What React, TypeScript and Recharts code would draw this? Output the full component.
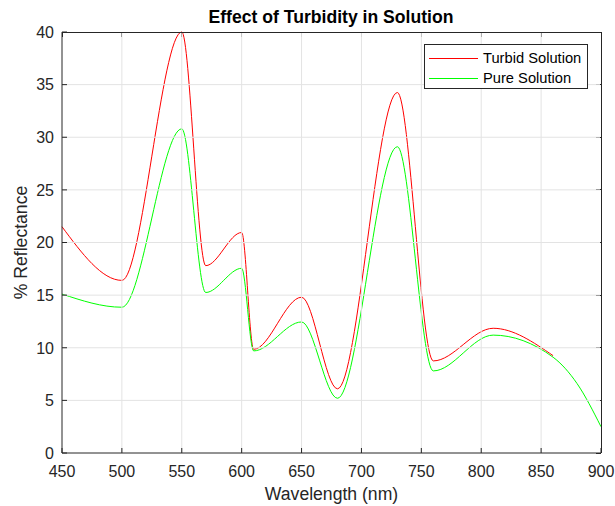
import { LineChart, Line, XAxis, YAxis, Legend, Label } from "recharts"

// knot wavelengths (nm) and reflectance
const turbidWl = [450, 500, 550, 570, 600, 610, 650, 680, 730, 760, 810, 860]
const turbidVals = [21.5, 16.4, 40.0, 17.8, 20.95, 9.85, 14.8, 6.1, 34.25, 8.75, 11.85, 9.25]

const pureWl = [450, 500, 550, 570, 600, 610, 650, 680, 730, 760, 810, 860, 880, 900]
const pureVals = [15.1, 13.85, 30.8, 15.25, 17.55, 9.7, 12.45, 5.2, 29.1, 7.8, 11.2, 9.1, 6.6, 2.5]

const seriesNames = ["Turbid Solution", "Pure Solution"]
const xTicks = [450, 500, 550, 600, 650, 700, 750, 800, 850, 900]
const yTicks = [0, 5, 10, 15, 20, 25, 30, 35, 40]

const turbid = turbidWl.map((x, i) => ({ x, y: turbidVals[i] }))
const pure = pureWl.map((x, i) => ({ x, y: pureVals[i] }))

const FONT = "'Liberation Sans', Arial, Helvetica, sans-serif"
const INK = "#262626"
const GRID = "#e3e3e3"

const W = 615
const H = 506
const M = { top: 32, right: 14, left: 0, bottom: 0 }
const Y_AXIS_W = 62
const X_AXIS_H = 53
const PLOT_LEFT = M.left + Y_AXIS_W
const PLOT_TOP = M.top
const PLOT_RIGHT = W - M.right
const PLOT_BOTTOM = H - M.bottom - X_AXIS_H

// grid line + inward tick at the bottom
const BottomTick = ({ x, y, payload }: any) => {
  const edge = payload.value === xTicks[0] || payload.value === xTicks[xTicks.length - 1]
  return (
    <g>
      {!edge && <line x1={x} y1={PLOT_TOP + 1} x2={x} y2={y - 1} stroke={GRID} />}
      <line x1={x} y1={y} x2={x} y2={y - 5} stroke={INK} />
      <text x={x} y={y + 24} textAnchor="middle" fontSize={16} fill={INK} fontFamily={FONT}>
        {payload.value}
      </text>
    </g>
  )
}

const LeftTick = ({ x, y, payload }: any) => {
  const edge = payload.value === yTicks[0] || payload.value === yTicks[yTicks.length - 1]
  return (
    <g>
      {!edge && <line x1={x + 1} y1={y} x2={PLOT_RIGHT - 1} y2={y} stroke={GRID} />}
      <line x1={x} y1={y} x2={x + 5} y2={y} stroke={INK} />
      <text x={x - 8} y={y} dy="0.36em" textAnchor="end" fontSize={16} fill={INK} fontFamily={FONT}>
        {payload.value}
      </text>
    </g>
  )
}

// closed axes box with inward ticks on the top and right edges
const Frame = () => {
  const xPos = (v: number) =>
    PLOT_LEFT + ((v - xTicks[0]) / (xTicks[xTicks.length - 1] - xTicks[0])) * (PLOT_RIGHT - PLOT_LEFT)
  const yPos = (v: number) =>
    PLOT_BOTTOM - ((v - yTicks[0]) / (yTicks[yTicks.length - 1] - yTicks[0])) * (PLOT_BOTTOM - PLOT_TOP)
  return (
    <g shapeRendering="crispEdges">
      <line x1={PLOT_LEFT} y1={PLOT_TOP} x2={PLOT_RIGHT} y2={PLOT_TOP} stroke={INK} />
      <line x1={PLOT_RIGHT} y1={PLOT_TOP} x2={PLOT_RIGHT} y2={PLOT_BOTTOM} stroke={INK} />
      {xTicks.map((v) => (
        <line key={"t" + v} x1={xPos(v)} y1={PLOT_TOP} x2={xPos(v)} y2={PLOT_TOP + 5} stroke={INK} />
      ))}
      {yTicks.map((v) => (
        <line key={"r" + v} x1={PLOT_RIGHT} y1={yPos(v)} x2={PLOT_RIGHT - 5} y2={yPos(v)} stroke={INK} />
      ))}
    </g>
  )
}

const LegendBox = ({ payload }: any) => {
  const items = seriesNames
    .map((n) => (payload || []).find((p: any) => p.value === n))
    .filter(Boolean)
  return (
    <div
      style={{
        width: 162,
        height: 43,
        border: `1px solid ${INK}`,
        background: "#fff",
        fontFamily: FONT,
        fontSize: 14.7,
        color: "#000",
        boxSizing: "content-box",
      }}
    >
      {items.map((p: any, i: number) => (
        <div key={i} style={{ display: "flex", alignItems: "center", height: 20, marginTop: i === 0 ? 3 : 0 }}>
          <div style={{ width: 49, height: 1, background: p.color, marginLeft: 4, marginRight: 5 }} />
          <span>{p.value}</span>
        </div>
      ))}
    </div>
  )
}

export default function App() {
  return (
    <div style={{ position: "absolute", left: 0, top: 0, background: "#fff" }}>
      <LineChart width={W} height={H} margin={M}>
        <XAxis
          dataKey="x"
          type="number"
          domain={[450, 900]}
          ticks={xTicks}
          height={X_AXIS_H}
          tickSize={0}
          tickMargin={0}
          stroke={INK}
          tick={<BottomTick />}
        >
          <Label
            content={() => (
              <g>
                <text x={331.5} y={500} textAnchor="middle" fontSize={17.6} fill={INK} fontFamily={FONT}>
                  Wavelength (nm)
                </text>
                <text x={331} y={23} textAnchor="middle" fontSize={17.6} fontWeight="bold" fill="#000" fontFamily={FONT}>
                  Effect of Turbidity in Solution
                </text>
              </g>
            )}
          />
        </XAxis>
        <YAxis
          type="number"
          domain={[0, 40]}
          ticks={yTicks}
          width={Y_AXIS_W}
          tickSize={0}
          tickMargin={0}
          stroke={INK}
          tick={<LeftTick />}
        >
          <Label
            content={() => (
              <g>
                <text
                  transform="translate(26.5,242.5) rotate(-90)"
                  textAnchor="middle"
                  fontSize={17.6}
                  fill={INK}
                  fontFamily={FONT}
                >
                  % Reflectance
                </text>
                <Frame />
              </g>
            )}
          />
        </YAxis>
        <Legend
          layout="vertical"
          align="center"
          verticalAlign="middle"
          content={<LegendBox />}
          wrapperStyle={{ position: "absolute", left: 424, top: 44, width: 164, height: 45 }}
        />
        <Line
          data={turbid}
          dataKey="y"
          name="Turbid Solution"
          type="monotone"
          stroke="#ff0000"
          strokeWidth={1}
          dot={false}
          isAnimationActive={false}
        />
        <Line
          data={pure}
          dataKey="y"
          name="Pure Solution"
          type="monotone"
          stroke="#00ff00"
          strokeWidth={1}
          dot={false}
          isAnimationActive={false}
        />
      </LineChart>
    </div>
  )
}
